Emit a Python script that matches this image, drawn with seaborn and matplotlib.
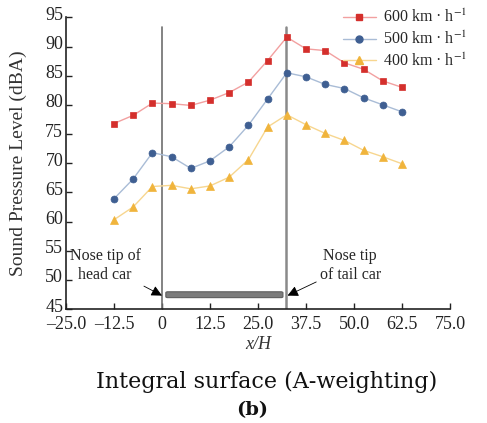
import numpy as np
import pandas as pd
import matplotlib
matplotlib.use("Agg")
import matplotlib.pyplot as plt
import matplotlib.transforms as mtransforms
from matplotlib.lines import Line2D
from matplotlib.patches import FancyBboxPatch
import seaborn as sns

# Measurement positions (x/H) and A-weighted levels per train speed
x_pos = [-12.5, -7.5, -2.5, 2.5, 7.5, 12.5, 17.5, 22.5,
         27.5, 32.5, 37.5, 42.5, 47.5, 52.5, 57.5, 62.5]
spl_600 = [76.8, 78.2, 80.3, 80.2, 79.9, 80.8, 82.1, 83.9,
           87.6, 91.6, 89.6, 89.3, 87.2, 86.1, 84.1, 83.0]
spl_500 = [63.9, 67.3, 71.8, 71.1, 69.1, 70.4, 72.8, 76.5,
           81.0, 85.5, 84.8, 83.5, 82.8, 81.2, 80.0, 78.8]
spl_400 = [60.3, 62.5, 66.0, 66.2, 65.6, 66.1, 67.6, 70.6,
           76.2, 78.3, 76.6, 75.1, 73.9, 72.2, 71.1, 69.9]
series_labels = ["600 km \u00b7 h$^{-1}$", "500 km \u00b7 h$^{-1}$", "400 km \u00b7 h$^{-1}$"]
x_ticks = [-25.0, -12.5, 0, 12.5, 25.0, 37.5, 50.0, 62.5, 75.0]
x_tick_labels = ["\u201325.0", "\u201312.5", "0", "12.5", "25.0", "37.5", "50.0", "62.5", "75.0"]
y_ticks = [45, 50, 55, 60, 65, 70, 75, 80, 85, 90, 95]

# Train extent along x/H
head_nose = 0.0
tail_nose = 32.3

sns.set_style("ticks")
plt.rcParams["font.family"] = ["Liberation Serif", "DejaVu Serif"]
plt.rcParams["mathtext.fontset"] = "stix"

df = pd.DataFrame({
    "x": x_pos * 3,
    "spl": spl_600 + spl_500 + spl_400,
    "speed": [series_labels[0]] * len(x_pos) + [series_labels[1]] * len(x_pos)
             + [series_labels[2]] * len(x_pos),
})

line_colors = {series_labels[0]: "#f2a0a0", series_labels[1]: "#a9bcd6", series_labels[2]: "#f7d68f"}
marker_colors = {series_labels[0]: "#d42f2c", series_labels[1]: "#3f5f92", series_labels[2]: "#f0b43c"}
markers = {series_labels[0]: "s", series_labels[1]: "o", series_labels[2]: "^"}
marker_sizes = {series_labels[0]: 4.6, series_labels[1]: 5.0, series_labels[2]: 5.6}

fig = plt.figure(figsize=(4.87, 4.23), dpi=100)
ax = fig.add_axes([0.1355, 0.2695, 0.7885, 0.6895])

sns.lineplot(data=df, x="x", y="spl", hue="speed", style="speed",
             palette=line_colors, markers=markers, dashes=False,
             linewidth=1.0, ax=ax, legend=False)

# darker marker fill on top of the light connecting lines
for line, key in zip(ax.get_lines()[:3], series_labels):
    line.set_markerfacecolor(marker_colors[key])
    line.set_markeredgecolor(marker_colors[key])
    line.set_markersize(marker_sizes[key])
    line.set_markeredgewidth(0.5)

handles = [Line2D([], [], color=line_colors[k], lw=1.0, marker=markers[k],
                  markersize=marker_sizes[k], markerfacecolor=marker_colors[k],
                  markeredgecolor=marker_colors[k]) for k in series_labels]
fig.legend(handles, series_labels, loc="upper right", bbox_to_anchor=(0.983, 1.005),
           frameon=False, fontsize=11.5, handlelength=2.1, handletextpad=0.45,
           labelspacing=0.28, borderpad=0.2)

# head and tail nose positions
ax.plot([head_nose, head_nose], [45, 93.4], color="#6e6e6e", lw=1.2, zorder=1)
ax.plot([tail_nose, tail_nose], [45, 93.4], color="#8a8a8a", lw=1.8, zorder=1)

# train body
train = FancyBboxPatch((head_nose + 1.0, 46.95), tail_nose - head_nose - 1.8, 1.0,
                       boxstyle="round,pad=0,rounding_size=0.5",
                       mutation_aspect=1 / 3.0,
                       facecolor="#7c7c7c", edgecolor="#5e5e5e", lw=0.8, zorder=2)
ax.add_patch(train)

ax.annotate("Nose tip of\nhead car", xy=(head_nose, 47.3), xytext=(-14.8, 52.4),
            ha="center", va="center", fontsize=11.5, linespacing=1.25,
            arrowprops=dict(arrowstyle="-|>", color="black", lw=0.6,
                            mutation_scale=16, shrinkA=0, shrinkB=0), zorder=5)
ax.annotate("Nose tip\nof tail car", xy=(tail_nose + 0.4, 47.3), xytext=(49.0, 52.4),
            ha="center", va="center", fontsize=11.5, linespacing=1.25,
            arrowprops=dict(arrowstyle="-|>", color="black", lw=0.6,
                            mutation_scale=16, shrinkA=0, shrinkB=0), zorder=5)

ax.set_xlim(-25, 75)
ax.set_ylim(45, 95)
ax.set_xticks(x_ticks)
ax.set_xticklabels(x_tick_labels)
ax.set_yticks(y_ticks)
ax.tick_params(direction="in", labelsize=13, length=4, width=1.0, colors="#222222",
               pad=2)
ax.tick_params(axis="x", labelsize=13, pad=5)
for side in ("top", "right"):
    ax.spines[side].set_visible(False)
for side in ("left", "bottom"):
    ax.spines[side].set_linewidth(1.2)
    ax.spines[side].set_color("#222222")

# y tick labels sit slightly above their ticks
lift = mtransforms.ScaledTranslation(0, 4 / 100, fig.dpi_scale_trans)
for lbl in ax.get_yticklabels():
    lbl.set_transform(lbl.get_transform() + lift)

ax.set_xlabel("x/H", fontsize=13, fontstyle="italic", labelpad=2, color="#333333")
ax.set_ylabel("Sound Pressure Level (dBA)", fontsize=14, labelpad=2, color="#333333")
ax.yaxis.set_label_coords(-0.102, 0.5)

fig.text(0.547, 0.097, "Integral surface (A-weighting)", ha="center", va="center",
         fontsize=16, family=["DejaVu Serif"], color="#111111")
fig.text(0.517, 0.031, "(b)", ha="center", va="center", fontsize=14,
         fontweight="bold", family=["DejaVu Serif"], color="#111111")

fig.savefig("out.png", dpi=100)
